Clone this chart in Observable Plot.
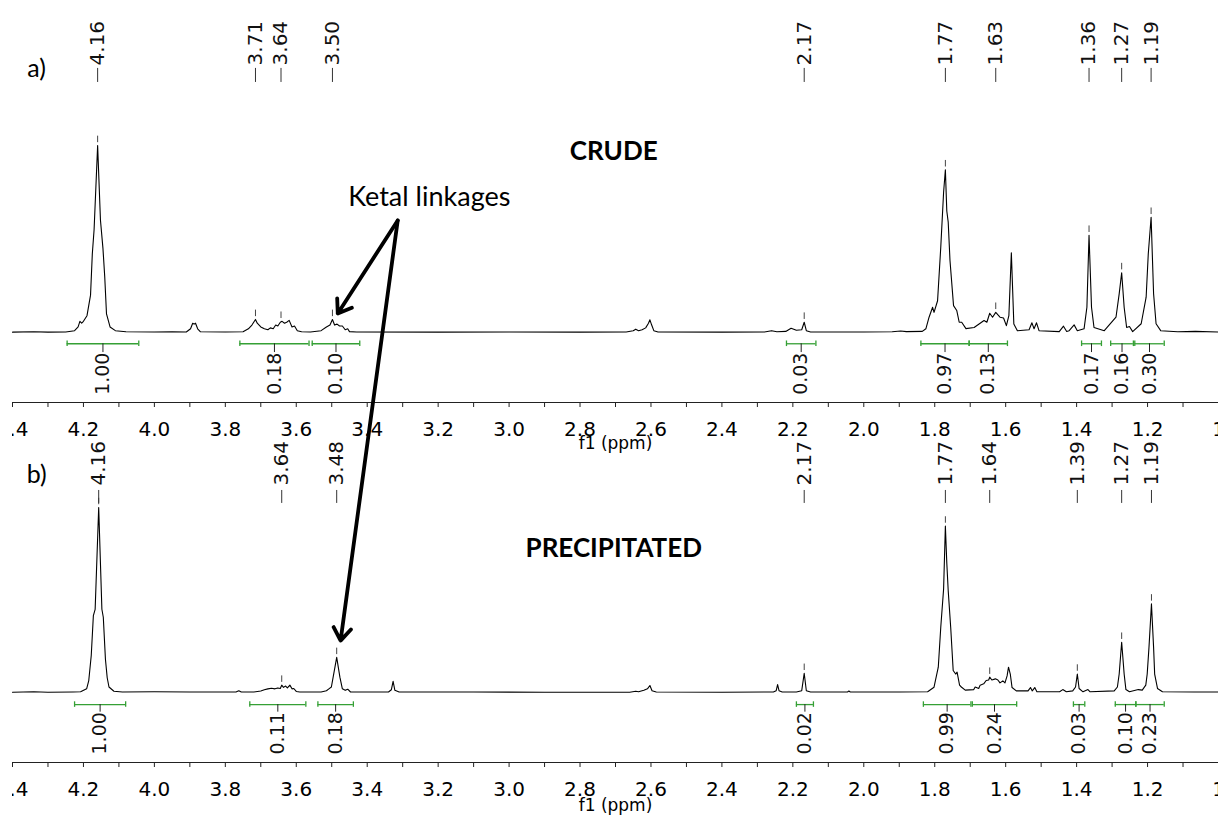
<!DOCTYPE html>
<html><head><meta charset="utf-8">
<script src="https://cdn.jsdelivr.net/npm/d3@7"></script>
<script src="https://cdn.jsdelivr.net/npm/@observablehq/plot@0.6"></script>
<style>
html,body{margin:0;padding:0;background:#fff;}
#wrap{position:absolute;left:12px;top:0;width:1206px;height:823px;overflow:hidden;}
#wrap svg{display:block;overflow:visible;}
</style></head><body><div id="wrap"></div>
<script>
// ---------- axis ticks ----------
const majorTicks = [4.4,4.2,4.0,3.8,3.6,3.4,3.2,3.0,2.8,2.6,2.4,2.2,2.0,1.8,1.6,1.4,1.2,1.0];
const majorTickLabels = ["4.4","4.2","4.0","3.8","3.6","3.4","3.2","3.0","2.8","2.6","2.4","2.2","2.0","1.8","1.6","1.4","1.2","1"];
const minorTicks = [4.3,4.1,3.9,3.7,3.5,3.3,3.1,2.9,2.7,2.5,2.3,2.1,1.9,1.7,1.5,1.3,1.1];
const axisTitle = "f1 (ppm)";

// ---------- a) CRUDE spectrum: [shift ppm, relative intensity] ----------
const crudeTrace = [
[4.40,0.2],[4.34,0.4],[4.30,0.2],[4.25,0.3],[4.225,1],[4.215,3],[4.21,6],[4.205,5],[4.20,6],[4.19,9],[4.18,20],[4.175,42],[4.17,55],[4.16,100],[4.152,60],[4.145,45],[4.14,30],[4.135,10],[4.125,3],[4.11,1],[4.08,0.4],[4.0,0.3],[3.95,0.4],
[3.91,0.3],[3.898,2],[3.892,5],[3.888,4.5],[3.884,5],[3.878,2],[3.87,0.4],[3.80,0.3],
[3.75,0.4],[3.735,2],[3.725,4],[3.715,7],[3.71,5],[3.70,3],[3.69,2],[3.68,1.5],[3.673,2.5],[3.665,2],[3.658,4],[3.652,3.5],[3.645,5.5],[3.64,6],[3.633,5],[3.627,5.5],[3.62,6.5],[3.612,3],[3.605,3.5],[3.597,1],[3.585,0.4],
[3.56,0.3],[3.53,1],[3.515,3],[3.505,4],[3.498,7],[3.492,4],[3.485,4.5],[3.478,3.5],[3.47,3.5],[3.462,1.5],[3.455,2],[3.45,0.5],[3.43,0.3],
[3.2,0.2],[3.0,0.3],[2.8,0.2],
[2.67,0.3],[2.65,1],[2.643,1.8],[2.635,1],[2.625,1.5],[2.615,2.5],[2.607,5],[2.603,6.8],[2.598,4],[2.592,1],[2.58,0.3],[2.4,0.2],
[2.28,0.3],[2.26,1],[2.245,0.4],[2.22,0.6],[2.205,2.3],[2.19,1.2],[2.175,1.5],[2.168,5.5],[2.162,1],[2.15,0.3],[2.0,0.3],
[1.92,0.4],[1.896,0.8],[1.88,0.5],[1.835,0.6],[1.825,2],[1.816,8.2],[1.806,13.5],[1.802,10.8],[1.792,17],[1.783,45.6],[1.775,75],[1.770,87],[1.766,65],[1.762,59],[1.757,38.5],[1.747,14.4],[1.738,11.8],[1.731,5.5],[1.724,5.5],[1.712,2.1],[1.689,2.7],
[1.661,6.4],[1.653,5.5],[1.645,10.3],[1.637,8.2],[1.628,10.8],[1.616,8.2],[1.606,7.8],[1.598,3.7],[1.591,9],[1.584,42.6],[1.577,4.6],[1.567,1],
[1.534,1.5],[1.526,5.2],[1.520,2],[1.513,5.2],[1.506,1],[1.449,0.5],[1.437,3.4],[1.428,0.6],[1.421,1],[1.407,4.1],[1.398,1],
[1.379,2],[1.371,13.5],[1.365,52],[1.358,13.5],[1.351,2.7],[1.322,1],
[1.289,8.2],[1.280,20.7],[1.273,32],[1.266,13.5],[1.259,2.7],[1.251,3.2],[1.242,0.5],
[1.218,4.7],[1.204,18.9],[1.198,42],[1.190,61.6],[1.183,20.7],[1.176,4.7],[1.163,1],[1.115,0.4],[1.065,0.6],[1.0,0.3]
];
const crudePeakLabels = ["4.16","3.71","3.64","3.50","2.17","1.77","1.63","1.36","1.27","1.19"];
const crudePeakShift  = [4.16,3.715,3.643,3.498,2.168,1.770,1.628,1.365,1.273,1.190];
const crudePeakHeight = [100,7,6,7,5.5,87,10.8,52,32,61.6];
const crudeIntegralFrom  = [4.246,3.759,3.555,2.218,1.839,1.703,1.386,1.304,1.236];
const crudeIntegralTo    = [4.044,3.564,3.421,2.135,1.703,1.595,1.330,1.240,1.153];
const crudeIntegralValue = ["1.00","0.18","0.10","0.03","0.97","0.13","0.17","0.16","0.30"];

// ---------- b) PRECIPITATED spectrum ----------
const precipTrace = [
[4.40,0.2],[4.34,0.4],[4.30,0.2],[4.23,0.3],[4.208,0.4],[4.191,2],[4.185,6.5],[4.178,20],[4.172,41.6],[4.167,45],[4.157,100],[4.148,45],[4.144,40.7],[4.138,18],[4.133,8],[4.128,3],[4.114,0.7],[4.09,0.3],[4.0,0.4],[3.9,0.3],
[3.77,0.3],[3.762,1],[3.755,0.3],[3.72,0.3],[3.70,0.8],[3.69,1.5],[3.68,2],[3.67,2.3],[3.66,2],[3.652,2.5],[3.645,2.2],[3.641,4],[3.636,2.8],[3.63,3.5],[3.625,2.5],[3.618,4],[3.612,2],[3.607,2.2],[3.60,0.6],[3.59,0.3],
[3.53,0.3],[3.515,1],[3.508,2],[3.501,3],[3.496,8.3],[3.486,19],[3.477,8.3],[3.47,2],[3.462,1.2],[3.455,1.8],[3.447,0.3],
[3.34,0.3],[3.332,1.5],[3.327,6.1],[3.322,1.2],[3.31,0.3],[3.1,0.3],[2.9,0.2],
[2.66,0.2],[2.643,0.7],[2.635,0.4],[2.62,1.2],[2.61,2],[2.603,3.8],[2.597,1],[2.585,0.3],[2.4,0.2],
[2.255,0.3],[2.247,1],[2.243,4.3],[2.239,1],[2.23,0.3],[2.19,0.3],[2.175,1],[2.168,10.4],[2.162,1],[2.15,0.3],[2.046,0.3],[2.042,0.8],[2.038,0.3],[1.9,0.3],
[1.82,0.4],[1.802,2.9],[1.790,13.7],[1.783,35.3],[1.775,56],[1.770,90],[1.766,70],[1.762,55],[1.755,35.3],[1.748,11.9],[1.741,10],[1.737,11],[1.730,4],[1.725,3],[1.714,1.3],
[1.690,1.6],[1.686,3],[1.676,2.2],[1.672,4],[1.662,4.7],[1.655,6.5],[1.648,6.8],[1.645,8.3],[1.639,6.8],[1.629,7.4],[1.622,6.8],[1.616,5.2],[1.608,6.3],[1.602,5.2],[1.596,9],[1.592,13.7],[1.587,10],[1.582,2.7],[1.570,0.9],
[1.537,0.9],[1.530,2.7],[1.525,0.9],[1.518,2.7],[1.512,0.4],[1.448,0.4],[1.439,1.6],[1.429,0.4],[1.411,0.9],[1.403,3],[1.398,10],[1.393,2.2],[1.382,0.4],[1.368,1.6],[1.362,0.4],
[1.294,0.9],[1.285,3],[1.280,10],[1.273,27.2],[1.266,10],[1.261,1.6],[1.251,0.4],[1.226,1.6],[1.215,1.3],
[1.205,4],[1.201,10],[1.196,24.4],[1.189,47.9],[1.183,24.4],[1.180,10],[1.172,2.2],[1.158,0.4],[1.069,0.3],[1.0,0.3]
];
const precipPeakLabels = ["4.16","3.64","3.48","2.17","1.77","1.64","1.39","1.27","1.19"];
const precipPeakShift  = [4.157,3.641,3.486,2.168,1.770,1.645,1.398,1.273,1.189];
const precipPeakHeight = [100,4,19,10.4,90,8.3,10,27.2,47.9];
const precipIntegralFrom  = [4.225,3.731,3.539,2.190,1.832,1.694,1.409,1.291,1.233];
const precipIntegralTo    = [4.081,3.573,3.439,2.142,1.698,1.569,1.377,1.233,1.153];
const precipIntegralValue = ["1.00","0.11","0.18","0.02","0.99","0.24","0.03","0.10","0.23"];

// ---------- annotations ----------
const panelTags = ["a)","b)"];
const panelTitles = ["CRUDE","PRECIPITATED"];
const ketalText = "Ketal linkages";

const GREEN = "#35a035";
const tickLabel = new Map(majorTicks.map((v, k) => [v, majorTickLabels[k]]));

function panel(p, L, extra) {
  const trace = p.trace.map(([ppm, i]) => ({ppm, i}));
  const peaks = p.labels.map((t, k) => ({t, x: p.shift[k], h: p.height[k]}));
  const ints = p.intValue.map((t, k) => ({t, a: p.intFrom[k], b: p.intTo[k], m: (p.intFrom[k] + p.intTo[k]) / 2}));
  const caps = ints.flatMap(d => [d.a, d.b]);
  return Plot.plot({
    width: 1206, height: L.height,
    marginLeft: 0, marginRight: 0, marginTop: L.mt, marginBottom: L.mb,
    style: {fontFamily: "'DejaVu Sans', Verdana, sans-serif", overflow: "visible", background: "transparent", color: "#000"},
    x: {domain: [4.4, 1.0], axis: null},
    y: {domain: [L.yMin, 100], axis: null},
    marks: [
      Plot.ruleY([L.yMin], {stroke: "#222", strokeWidth: 1.2}),
      Plot.axisX({ticks: majorTicks, tickSize: 5, tickPadding: 14, fontSize: 20, tickFormat: d => tickLabel.get(d), stroke: "#222"}),
      Plot.axisX({ticks: minorTicks, tickSize: 5, tickFormat: () => "", stroke: "#222"}),
      Plot.text([axisTitle], {frameAnchor: "bottom", dy: L.titleDy, fontSize: 17, lineAnchor: "middle"}),
      // spectrum
      Plot.line(trace, {x: "ppm", y: "i", stroke: "#000", strokeWidth: 1.1, curve: "linear"}),
      // peak picking
      Plot.ruleX(peaks, {x: "x", y1: d => d.h + 1.5, y2: d => d.h + 5, stroke: "#444", strokeWidth: 1}),
      Plot.ruleX(peaks, {x: "x", y1: L.tickLo, y2: L.tickHi, stroke: "#333", strokeWidth: 1}),
      Plot.text(peaks, {x: "x", y: L.labelY, text: "t", rotate: -90, textAnchor: "start", lineAnchor: "middle", fontSize: 20, fill: "#111"}),
      // integrals
      Plot.ruleY(ints, {x1: "a", x2: "b", y: L.intY, stroke: GREEN, strokeWidth: 1.3}),
      Plot.ruleX(caps, {x: d => d, y1: L.intY - 1.5, y2: L.intY + 1.5, stroke: GREEN, strokeWidth: 1.3}),
      Plot.ruleX(ints, {x: "m", y1: L.intY, y2: L.intTextY, stroke: "#222", strokeWidth: 1}),
      Plot.text(ints, {x: "m", y: L.intTextY, text: "t", rotate: -90, textAnchor: "end", lineAnchor: "middle", fontSize: 19, fill: "#111"}),
      // panel annotations
      Plot.text([p.tag], {x: 4.332, y: L.tagY, text: d => d, fontFamily: "Lato, 'Open Sans', sans-serif", fontSize: 25, lineAnchor: "bottom", textAnchor: "middle"}),
      Plot.text([p.title], {x: 2.705, y: L.titleY, text: d => d, fontFamily: "Lato, 'Open Sans', sans-serif", fontWeight: "bold", fontSize: 26, lineAnchor: "bottom", textAnchor: "middle"}),
      ...extra
    ]
  });
}

const ketalArrows = [
  {x1: 3.314, y1: 59.9, x2: 3.483, y2: 10.2},
  {x1: 3.314, y1: 59.9, x2: 3.475, y2: -164.7}
];

const topExtra = [
  Plot.text([ketalText], {x: 3.225, y: 67.4, text: d => d, fontFamily: "Lato, 'Open Sans', sans-serif", fontSize: 27, lineAnchor: "bottom", textAnchor: "middle"}),
  Plot.arrow(ketalArrows, {x1: "x1", y1: "y1", x2: "x2", y2: "y2", stroke: "#000", strokeWidth: 3.8, headLength: 6, headAngle: 70, strokeLinecap: "round"})
];

const crude = {trace: crudeTrace, labels: crudePeakLabels, shift: crudePeakShift, height: crudePeakHeight,
  intFrom: crudeIntegralFrom, intTo: crudeIntegralTo, intValue: crudeIntegralValue, tag: panelTags[0], title: panelTitles[0]};
const precip = {trace: precipTrace, labels: precipPeakLabels, shift: precipPeakShift, height: precipPeakHeight,
  intFrom: precipIntegralFrom, intTo: precipIntegralTo, intValue: precipIntegralValue, tag: panelTags[1], title: panelTitles[1]};

const topLayout = {height: 450, mt: 145, mb: 48, yMin: -37.4, titleDy: 41,
  tickLo: 133.7, tickHi: 141.2, labelY: 142.8, intY: -6.0, intTextY: -10.7, tagY: 136.4, titleY: 92.5};
const botLayout = {height: 373, mt: 57, mb: 61, yMin: -37.8, titleDy: 43,
  tickLo: 102.2, tickHi: 109.2, labelY: 111.9, intY: -6.5, intTextY: -10.6, tagY: 113.5, titleY: 73};

const wrap = document.getElementById("wrap");
wrap.append(panel(crude, topLayout, topExtra));
wrap.append(panel(precip, botLayout, []));
</script></body></html>
